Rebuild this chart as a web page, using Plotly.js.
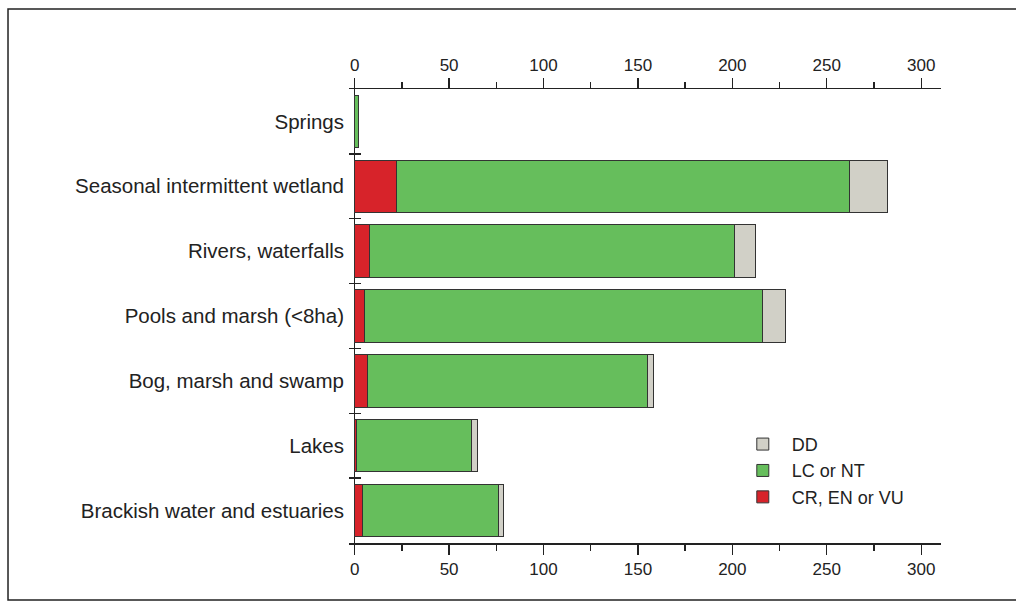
<!DOCTYPE html>
<html>
<head>
<meta charset="utf-8">
<script src="https://cdn.plot.ly/plotly-3.0.1.min.js"></script>
<style>
  html, body { margin: 0; padding: 0; background: #fff; }
  #chart { width: 1016px; height: 602px; }
</style>
</head>
<body>
<div id="chart"></div>
<script>
const categories = [
  "Springs",
  "Seasonal intermittent wetland",
  "Rivers, waterfalls",
  "Pools and marsh (<8ha)",
  "Bog, marsh and swamp",
  "Lakes",
  "Brackish water and estuaries"
];
const threatened = [0, 22, 8, 5, 7, 1, 4];        // CR, EN or VU
const leastConcern = [2, 240, 193, 211, 148, 61, 72]; // LC or NT
const dataDeficient = [0, 20, 11, 12, 3, 3, 3];     // DD
const seriesNames = ["CR, EN or VU", "LC or NT", "DD"];
const seriesColors = ["#d7232a", "#66be5c", "#d1d0c7"];
const xTickVals = [0, 50, 100, 150, 200, 250, 300];

const outline = { color: "#333333", width: 1 };
const seriesValues = [threatened, leastConcern, dataDeficient];
const traces = seriesValues.map((vals, i) => ({
  type: "bar",
  orientation: "h",
  name: seriesNames[i],
  y: categories,
  x: vals,
  marker: { color: seriesColors[i], line: outline },
  hoverinfo: "x+y+name"
}));
// empty trace to activate the top axis
traces.push({ type: "scatter", mode: "markers", x: [], y: [], xaxis: "x2", showlegend: false, hoverinfo: "skip" });

const FONT = "'Liberation Sans', Arial, sans-serif";
const xRange = [-3, 310.5];
const axisFont = { family: FONT, size: 17, color: "#222" };
const baseX = {
  range: xRange,
  tickvals: xTickVals,
  ticktext: xTickVals.map(String),
  ticks: "outside",
  ticklen: 10,
  tickwidth: 1.3,
  tickcolor: "#222",
  showline: true,
  linecolor: "#222",
  linewidth: 1.5,
  showgrid: false,
  tickfont: axisFont,
  minor: { dtick: 25, tick0: 0, ticks: "outside", ticklen: 6, tickwidth: 1.3, tickcolor: "#222", showgrid: false },
  fixedrange: true
};

const layout = {
  width: 1016,
  height: 602,
  margin: { l: 349, r: 75, t: 89, b: 59, pad: 0 },
  paper_bgcolor: "#ffffff",
  plot_bgcolor: "rgba(0,0,0,0)",
  barmode: "stack",
  bargap: 0.19,
  showlegend: true,
  legend: {
    x: 0.65, y: 0.258, xanchor: "left", yanchor: "top",
    traceorder: "reversed",
    font: { family: FONT, size: 18, color: "#222" },
    bgcolor: "rgba(0,0,0,0)",
    itemwidth: 48,
    tracegroupgap: 0
  },
  xaxis: Object.assign({}, baseX, {
    side: "bottom",
    zeroline: true,
    zerolinecolor: "#222",
    zerolinewidth: 1.5
  }),
  xaxis2: Object.assign({}, baseX, {
    side: "top",
    overlaying: "x",
    anchor: "y",
    zeroline: false
  }),
  yaxis: {
    type: "category",
    categoryorder: "array",
    categoryarray: categories,
    range: [6.5, -0.5],
    showline: false,
    showgrid: false,
    zeroline: false,
    ticks: "inside",
    tickson: "boundaries",
    ticklen: 12,
    tickwidth: 1.3,
    tickcolor: "#222",
    ticklabelstandoff: 4,
    tickfont: { family: FONT, size: 20.5, color: "#222" },
    fixedrange: true
  },
  shapes: [{
    type: "rect", xref: "paper", yref: "paper",
    x0: -0.576, x1: 1.14, y0: -0.1256, y1: 1.176,
    line: { color: "#222", width: 1.5 },
    fillcolor: "rgba(0,0,0,0)",
    layer: "below"
  }]
};

Plotly.newPlot("chart", traces, layout, { displayModeBar: false, staticPlot: true });
</script>
</body>
</html>
